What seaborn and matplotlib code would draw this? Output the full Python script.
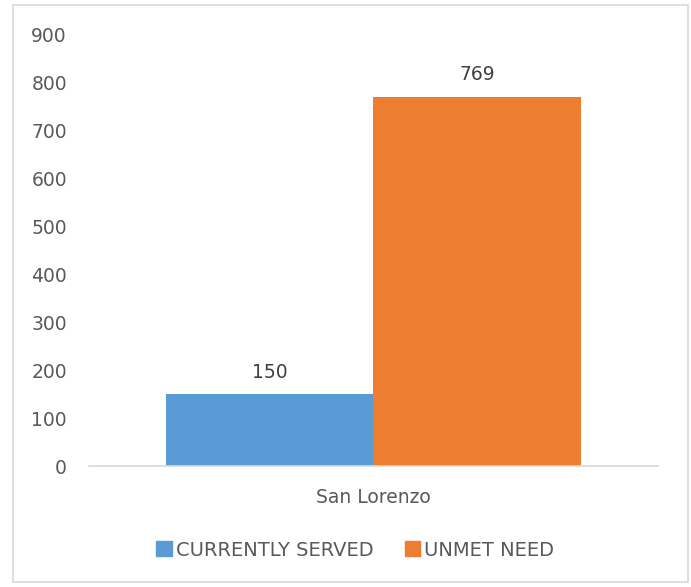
"""Served vs unmet need bar chart, Excel-like look."""
import matplotlib

matplotlib.use("Agg")

import matplotlib.pyplot as plt
import pandas as pd
import seaborn as sns
from matplotlib.patches import Rectangle

regions = ["San Lorenzo"]
series_names = ["CURRENTLY SERVED", "UNMET NEED"]
served = [150]
unmet = [769]
colors = ["#5B9BD5", "#ED7D31"]
yticks = [0, 100, 200, 300, 400, 500, 600, 700, 800, 900]

TEXT = "#595959"
LINE = "#D9D9D9"

sns.set_theme(style="white")
plt.rcParams["font.family"] = ["DejaVu Sans"]

df = pd.DataFrame({
    "region": regions * 2,
    "series": [series_names[0]] * len(regions) + [series_names[1]] * len(regions),
    "value": served + unmet,
})

fig = plt.figure(figsize=(6.91, 5.87), dpi=100)
ax = fig.add_axes([0.129, 0.206, 0.823, 0.736])

sns.barplot(data=df, x="region", y="value", hue="series", hue_order=series_names,
            palette=colors, width=0.73, saturation=1, linewidth=0, ax=ax, legend=False)

for cont in ax.containers:
    ax.bar_label(cont, padding=9, fontsize=13.5, color="#404040")

ax.set_ylim(0, 900)
ax.set_yticks(yticks)
ax.set_xlim(-0.5, 0.5)
ax.set_xlabel("")
ax.set_ylabel("")
ax.tick_params(axis="y", length=0, pad=16, labelsize=13.5, labelcolor=TEXT)
ax.tick_params(axis="x", length=0, pad=16, labelsize=13.5, labelcolor=TEXT)
for side in ["left", "right", "top"]:
    ax.spines[side].set_visible(False)
ax.spines["bottom"].set_color(LINE)
ax.spines["bottom"].set_linewidth(1.2)

handles = [Rectangle((0, 0), 1, 1, color=c) for c in colors]
fig.legend(handles, series_names, loc="center", bbox_to_anchor=(0.514, 0.063),
           ncol=2, frameon=False, fontsize=14, labelcolor=TEXT,
           handlelength=0.8, handleheight=0.8, handletextpad=0.2, columnspacing=1.6)

fig.add_artist(Rectangle((13 / 691, 5 / 587), 675 / 691, 577 / 587,
                         transform=fig.transFigure, fill=False,
                         edgecolor=LINE, linewidth=1.2))

fig.savefig("out.png", dpi=100)
plt.close(fig)
